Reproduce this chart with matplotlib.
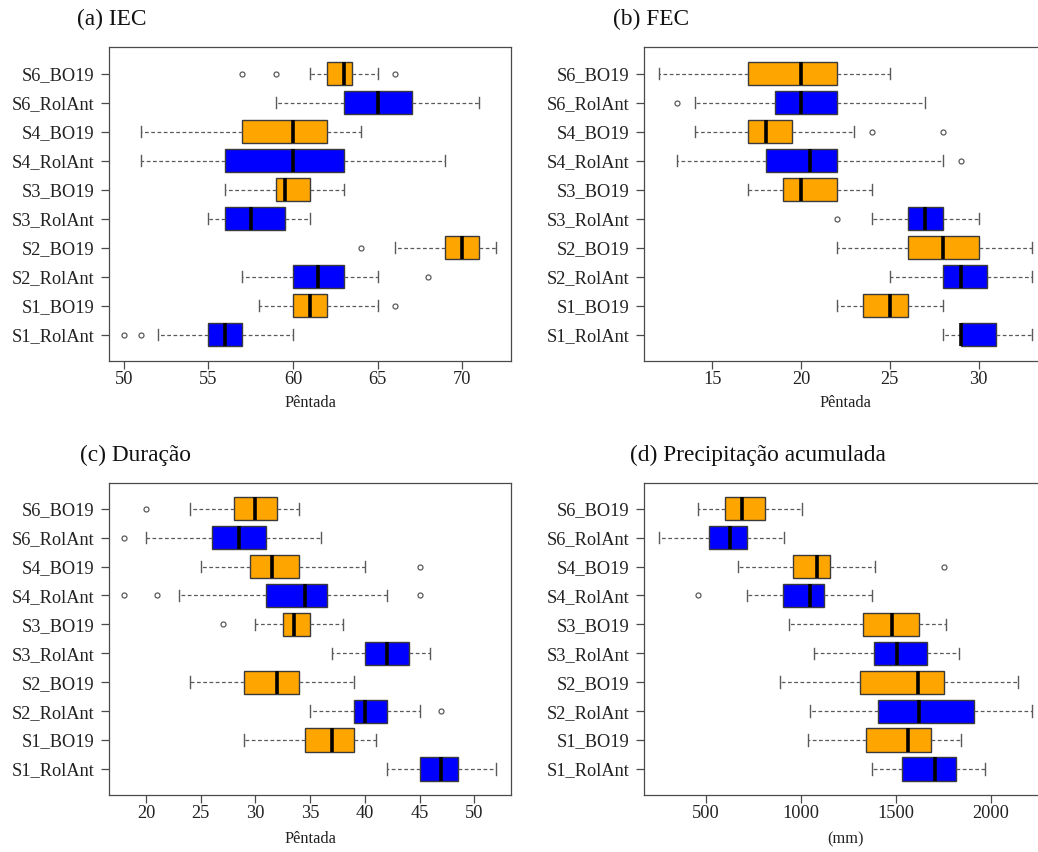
import matplotlib
matplotlib.use("Agg")
import matplotlib.pyplot as plt

plt.rcParams['font.family'] = ['Liberation Serif', 'DejaVu Serif']

W, H = 1038, 852

categories = ["S1_RolAnt", "S1_BO19", "S2_RolAnt", "S2_BO19", "S3_RolAnt",
              "S3_BO19", "S4_RolAnt", "S4_BO19", "S6_RolAnt", "S6_BO19"]
box_colors = ["#0000FF", "#FFA500"] * 5

# each row: whisker low, Q1, median, Q3, whisker high  (order follows categories)
iec_stats = [[52, 55, 56, 57, 60], [58, 60, 61, 62, 65], [57, 60, 61.5, 63, 65],
             [66, 69, 70, 71, 72], [55, 56, 57.5, 59.5, 61], [56, 59, 59.5, 61, 63],
             [51, 56, 60, 63, 69], [51, 57, 60, 62, 64], [59, 63, 65, 67, 71],
             [61, 62, 63, 63.5, 65]]
iec_fliers = [[50, 51], [66], [68], [64], [], [], [], [], [], [57, 59, 66]]

fec_stats = [[28, 29, 29, 31, 33], [22, 23.5, 25, 26, 28], [25, 28, 29, 30.5, 33],
             [22, 26, 28, 30, 33], [24, 26, 27, 28, 30], [17, 19, 20, 22, 24],
             [13, 18, 20.5, 22, 28], [14, 17, 18, 19.5, 23], [14, 18.5, 20, 22, 27],
             [12, 17, 20, 22, 25]]
fec_fliers = [[], [], [], [], [22], [], [29], [24, 28], [13], []]

dur_stats = [[42, 45, 47, 48.5, 52], [29, 34.5, 37, 39, 41], [35, 39, 40, 42, 45],
             [24, 29, 32, 34, 39], [37, 40, 42, 44, 46], [30, 32.5, 33.5, 35, 38],
             [23, 31, 34.5, 36.5, 42], [25, 29.5, 31.5, 34, 40], [20, 26, 28.5, 31, 36],
             [24, 28, 30, 32, 34]]
dur_fliers = [[], [], [47], [], [], [27], [18, 21, 45], [45], [18], [20]]

prec_stats = [[1375, 1535, 1705, 1816, 1970], [1038, 1342, 1567, 1686, 1842],
              [1049, 1404, 1625, 1911, 2216], [888, 1311, 1617, 1753, 2144],
              [1070, 1388, 1505, 1665, 1833], [938, 1328, 1479, 1621, 1767],
              [716, 904, 1047, 1121, 1375], [667, 958, 1086, 1154, 1393],
              [254, 517, 626, 714, 911], [456, 598, 689, 809, 1007]]
prec_fliers = [[], [], [], [], [], [], [456], [1753], [], []]

titles = ["(a) IEC", "(b) FEC", "(c) Duração", "(d) Precipitação acumulada"]
xlabels = ["Pêntada", "Pêntada", "Pêntada", "(mm)"]
xticks = [[50, 55, 60, 65, 70], [15, 20, 25, 30], [20, 25, 30, 35, 40, 45, 50],
          [500, 1000, 1500, 2000]]

# layout in pixels: left, right, top, bottom ; title left x, title center y
boxes_px = [(108.8, 511.1, 47.4, 360.7), (644.3, 1046.7, 47.4, 360.7),
            (109.2, 511.0, 482.7, 795.0), (644.3, 1046.6, 482.7, 795.0)]
title_px = [(77, 19), (613, 19), (80.3, 455), (630.5, 455)]
xlabel_y = [403, 403, 839, 839]

fig = plt.figure(figsize=(W / 100, H / 100), dpi=100)

panels = [(iec_stats, iec_fliers), (fec_stats, fec_fliers),
          (dur_stats, dur_fliers), (prec_stats, prec_fliers)]

frame_col = "#4a4a4a"
for k, (stats, fliers) in enumerate(panels):
    l, r, t, b = boxes_px[k]
    ax = fig.add_axes([l / W, 1 - b / H, (r - l) / W, (b - t) / H])
    bstats = []
    for name, s, f in zip(categories, stats, fliers):
        bstats.append(dict(label=name, whislo=s[0], q1=s[1], med=s[2], q3=s[3],
                           whishi=s[4], fliers=f))
    res = ax.bxp(bstats, positions=range(1, 11), widths=0.8, orientation='horizontal',
                 patch_artist=True, capwidths=0.4,
                 boxprops=dict(edgecolor="#3a3a3a", linewidth=1.0),
                 medianprops=dict(color="black", linewidth=2.6, solid_capstyle='butt'),
                 whiskerprops=dict(color="#5a5a5a", linewidth=0.9, linestyle=(0, (3, 2))),
                 capprops=dict(color="#5a5a5a", linewidth=1.0),
                 flierprops=dict(marker='o', markersize=3.6, markerfacecolor='none',
                                 markeredgecolor="#5a5a5a", markeredgewidth=0.9))
    for patch, c in zip(res['boxes'], box_colors):
        patch.set_facecolor(c)
    allv = [v for s in stats for v in s] + [v for f in fliers for v in f]
    lo, hi = min(allv), max(allv)
    rng = hi - lo
    ax.set_xlim(lo - 0.04 * rng, hi + 0.04 * rng)
    ax.set_ylim(0.1, 10.9)
    ax.set_xticks(xticks[k])
    ax.set_xticklabels([str(v) for v in xticks[k]])
    ax.set_yticks(range(1, 11))
    ax.set_yticklabels(categories)
    ax.tick_params(axis='both', direction='out', length=6, width=0.9, color=frame_col,
                   labelsize=13.2, labelcolor="#222222")
    ax.tick_params(axis='x', pad=1.5)
    ax.tick_params(axis='y', pad=4.5)
    for sp in ax.spines.values():
        sp.set_color(frame_col)
        sp.set_linewidth(0.9)
    if r > W:
        ax.spines['right'].set_visible(False)
    tx, ty = title_px[k]
    fig.text(tx / W, 1 - ty / H, titles[k], fontsize=16.8, ha='left', va='center',
             color="#111111")
    fig.text(((l + r) / 2) / W, 1 - xlabel_y[k] / H, xlabels[k], fontsize=11.8,
             ha='center', va='center', color="#222222")

fig.savefig("out.png", dpi=100)
